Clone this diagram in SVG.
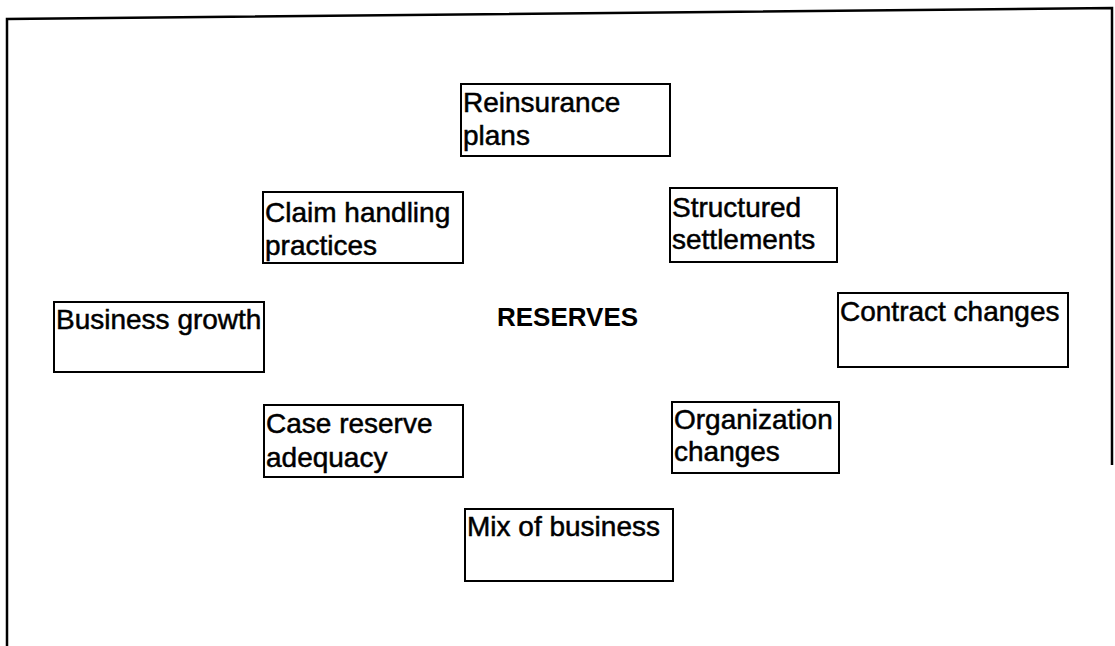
<svg xmlns="http://www.w3.org/2000/svg" width="1115" height="646" viewBox="0 0 1115 646">
<style>
.b{fill:#fff;stroke:#000;stroke-width:2}
.t{font-family:"Liberation Sans",Arial,sans-serif;font-size:28px;fill:#000;stroke:#000;stroke-width:0.5}
.h{font-family:"Liberation Sans",Arial,sans-serif;font-size:26px;font-weight:bold;fill:#000}
.f{fill:none;stroke:#000;stroke-width:2.5}
</style>
<rect width="1115" height="646" fill="#fff"/>
<g id="frame">
<polyline class="f" points="7,646 7,19 1112,8 1112,465"/>
</g>
<g id="connectors"></g>
<g id="reserves"><text class="h" x="497" y="326">RESERVES</text></g>
<g id="reinsurance"><rect class="b" x="461" y="84" width="209" height="72"/><text class="t" x="463" y="112">Reinsurance</text><text class="t" x="463" y="145">plans</text></g>
<g id="claim"><rect class="b" x="263" y="192" width="200" height="71"/><text class="t" x="265" y="222">Claim handling</text><text class="t" x="265" y="255">practices</text></g>
<g id="structured"><rect class="b" x="670" y="188" width="167" height="74"/><text class="t" x="672" y="217">Structured</text><text class="t" x="672" y="249">settlements</text></g>
<g id="growth"><rect class="b" x="54" y="302" width="210" height="70"/><text class="t" x="56" y="329">Business growth</text></g>
<g id="contract"><rect class="b" x="838" y="293" width="230" height="74"/><text class="t" x="840" y="321">Contract changes</text></g>
<g id="case"><rect class="b" x="264" y="405" width="199" height="72"/><text class="t" x="266" y="433">Case reserve</text><text class="t" x="266" y="467">adequacy</text></g>
<g id="organization"><rect class="b" x="672" y="402" width="167" height="71"/><text class="t" x="674" y="429">Organization</text><text class="t" x="674" y="461">changes</text></g>
<g id="mix"><rect class="b" x="465" y="509" width="208" height="72"/><text class="t" x="467" y="536">Mix of business</text></g>
</svg>
